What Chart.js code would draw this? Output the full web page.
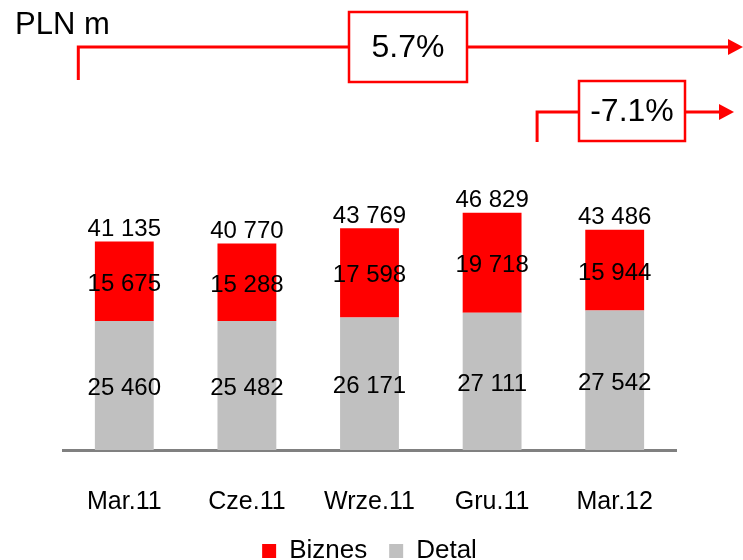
<!DOCTYPE html>
<html>
<head>
<meta charset="utf-8">
<script src="https://cdn.jsdelivr.net/npm/chart.js@4.4.0/dist/chart.umd.min.js"></script>
<style>
  html, body { margin: 0; padding: 0; background: #fff; }
  #wrap { width: 743px; height: 560px; }
</style>
</head>
<body>
<div id="wrap"><canvas id="barChart" width="743" height="560"></canvas></div>
<script>
const categories = ['Mar.11', 'Cze.11', 'Wrze.11', 'Gru.11', 'Mar.12'];
const detal = [25460, 25482, 26171, 27111, 27542];
const biznes = [15675, 15288, 17598, 19718, 15944];
const growthLabels = ['5.7%', '-7.1%'];
const unitLabel = 'PLN m';

const FONT = "'Liberation Sans', Arial, sans-serif";

function fmt(n) {
  return String(n).replace(/\B(?=(\d{3})+(?!\d))/g, ' ');
}

// value labels inside segments and totals above the bars
const labelPlugin = {
  id: 'labels',
  afterDatasetsDraw(chart) {
    const ctx = chart.ctx;
    ctx.save();
    ctx.font = '24px ' + FONT;
    ctx.fillStyle = '#000';
    ctx.textAlign = 'center';
    ctx.textBaseline = 'middle';
    chart.data.datasets.forEach((ds, di) => {
      chart.getDatasetMeta(di).data.forEach((bar, i) => {
        ctx.fillText(fmt(ds.data[i]), bar.x, (bar.y + bar.base) / 2 + 3);
      });
    });
    const topMeta = chart.getDatasetMeta(chart.data.datasets.length - 1);
    topMeta.data.forEach((bar, i) => {
      const total = detal[i] + biznes[i];
      ctx.fillText(fmt(total), bar.x, bar.y - 12);
    });
    ctx.restore();
  }
};

// unit label and growth arrows at the top
const arrowPlugin = {
  id: 'arrows',
  afterDraw(chart) {
    const ctx = chart.ctx;
    const x = chart.scales.x;
    const W = chart.width;
    ctx.save();
    ctx.fillStyle = '#000';
    ctx.font = '31px ' + FONT;
    ctx.textBaseline = 'alphabetic';
    ctx.textAlign = 'left';
    ctx.fillText(unitLabel, 15, 34);

    function arrow(x0, yLine, yBottom, boxCx, boxW, boxTop, boxH, tipX, text) {
      ctx.strokeStyle = '#ff0000';
      ctx.lineWidth = 3;
      ctx.beginPath();
      ctx.moveTo(x0, yBottom);
      ctx.lineTo(x0, yLine);
      ctx.lineTo(boxCx - boxW / 2, yLine);
      ctx.moveTo(boxCx + boxW / 2, yLine);
      ctx.lineTo(tipX - 14, yLine);
      ctx.stroke();
      ctx.fillStyle = '#ff0000';
      ctx.beginPath();
      ctx.moveTo(tipX, yLine);
      ctx.lineTo(tipX - 15, yLine - 8);
      ctx.lineTo(tipX - 15, yLine + 8);
      ctx.closePath();
      ctx.fill();
      ctx.fillStyle = '#fff';
      ctx.fillRect(boxCx - boxW / 2, boxTop, boxW, boxH);
      ctx.lineWidth = 2.5;
      ctx.strokeRect(boxCx - boxW / 2, boxTop, boxW, boxH);
      ctx.fillStyle = '#000';
      ctx.font = '32px ' + FONT;
      ctx.textAlign = 'center';
      ctx.textBaseline = 'middle';
      ctx.fillText(text, boxCx, boxTop + boxH / 2 + 1);
    }

    arrow(x.getPixelForValue(0) - 46, 47, 80, 408, 118, 12, 70, W, growthLabels[0]);
    arrow(x.getPixelForValue(3) + 45, 112, 142, 632, 106, 81, 60, 734, growthLabels[1]);
    ctx.restore();
  }
};

new Chart(document.getElementById('barChart'), {
  type: 'bar',
  data: {
    labels: categories,
    datasets: [
      { label: 'Detal', data: detal, backgroundColor: '#c0c0c0', barPercentage: 0.48, categoryPercentage: 1 },
      { label: 'Biznes', data: biznes, backgroundColor: '#ff0000', barPercentage: 0.48, categoryPercentage: 1 }
    ]
  },
  options: {
    responsive: false,
    animation: false,
    layout: { padding: { left: 63, right: 67, top: 146, bottom: -14 } },
    plugins: {
      legend: {
        position: 'bottom',
        reverse: true,
        labels: {
          font: { family: FONT, size: 26 },
          color: '#000',
          boxWidth: 14,
          boxHeight: 14,
          padding: 22
        }
      },
      tooltip: { enabled: false }
    },
    scales: {
      x: {
        stacked: true,
        grid: { display: false, drawTicks: false },
        border: { display: true, color: '#808080', width: 3 },
        ticks: { color: '#000', font: { family: FONT, size: 25 }, padding: 37 },
        afterFit(scale) { scale.height = 66; }
      },
      y: {
        stacked: true,
        display: false,
        min: 0,
        max: 60000
      }
    }
  },
  plugins: [labelPlugin, arrowPlugin]
});
</script>
</body>
</html>
